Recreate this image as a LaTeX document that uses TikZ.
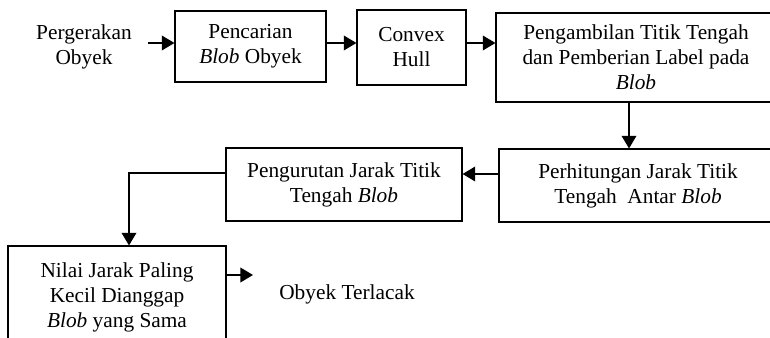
\documentclass[tikz,border=0pt]{standalone}
\usepackage{fontspec}
\setmainfont{Liberation Serif}
\usetikzlibrary{arrows.meta}
\begin{document}
\begin{tikzpicture}[x=0.75pt,y=-0.75pt,
  box/.style={draw, line width=0.8pt, inner sep=0pt, align=center,
    font=\fontsize{16}{18.75}\selectfont},
  txt/.style={inner sep=0pt, align=center, font=\fontsize{16}{18.75}\selectfont},
  conn/.style={line width=1.2pt, -{Triangle[length=9.5pt,width=11pt]}}]
\useasboundingbox (0,0) rectangle (770,338);
\clip (0,0) rectangle (770,338);
\node[txt] (t0) at (84,47) {Pergerakan\\Obyek};
\node[box, minimum width=113.25pt, minimum height=53.25pt] (b1) at (250.5,46.5) {Pencarian\\\textit{Blob} Obyek};
\node[box, minimum width=81.75pt, minimum height=56.25pt] (b2) at (411.5,47.5) {Convex\\Hull};
\node[box, minimum width=210pt, minimum height=66.75pt] (b3) at (636,57.5) {Pengambilan Titik Tengah\\dan Pemberian Label pada\\\textit{Blob}};
\node[box, minimum width=208.5pt, minimum height=54.75pt] (b4) at (638,185.5) {Perhitungan Jarak Titik\\Tengah\ \ Antar \textit{Blob}};
\node[box, minimum width=177pt, minimum height=54.75pt] (b5) at (344,184.5) {Pengurutan Jarak Titik\\Tengah \textit{Blob}};
\node[box, minimum width=163.5pt, minimum height=76.5pt] (b6) at (117,297) {Nilai Jarak Paling\\Kecil Dianggap\\\textit{Blob} yang Sama};
\node[txt] (t7) at (347,294) {Obyek Terlacak};
\coordinate (a0) at (148,43);
\coordinate (e6) at (253,275);
\draw[conn] (a0) -- (a0 -| b1.west);
\draw[conn] (b1.east |- 0,43) -- (b2.west |- 0,43);
\draw[conn] (b2.east |- 0,43) -- (b3.west |- 0,43);
\draw[conn] (b3.south -| 629,0) -- (b4.north -| 629,0);
\draw[conn] (b4.west |- 0,174) -- (b5.east |- 0,174);
\draw[conn] (b5.west |- 0,173) -| (b6.north -| 129,0);
\draw[conn] (b6.east |- e6) -- (e6);
\end{tikzpicture}
\end{document}
